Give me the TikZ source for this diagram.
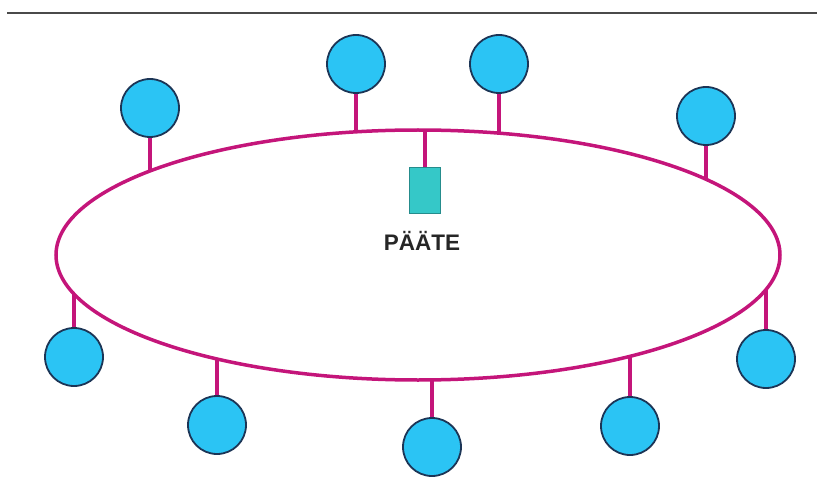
\documentclass[tikz,border=0pt]{standalone}
\usepackage{fontspec}
\setmainfont{Liberation Sans}
\usetikzlibrary{shapes.geometric,backgrounds}
\definecolor{ringcol}{HTML}{C4157A}
\definecolor{nodefill}{HTML}{2BC4F4}
\definecolor{nodeedge}{HTML}{1C3556}
\definecolor{termfill}{HTML}{35C8C8}
\definecolor{rulecol}{HTML}{4A4A4A}
\tikzset{
  station/.style={circle, draw=nodeedge, line width=1.8pt, fill=nodefill, minimum size=58pt, inner sep=0pt},
  stem/.style={draw=ringcol, line width=3.5pt},
  terminal/.style={rectangle, draw=termfill!70!black, line width=0.6pt, fill=termfill, minimum width=31pt, minimum height=46pt, inner sep=0pt},
  lbl/.style={font=\bfseries\fontsize{22.5}{22.5}\selectfont, text=black!85},
  bus/.style={draw=ringcol, line width=3.5pt, ellipse, minimum width=724pt, minimum height=250pt, inner sep=0pt}
}
\begin{document}
\begin{tikzpicture}[x=1pt,y=-1pt]
\useasboundingbox (0,0) rectangle (817,492);
% header rule
\coordinate (r0) at (7,13);
\coordinate (r1) at (817,13);
\draw[rulecol, line width=2.2pt] (r0) -- (r1);
% stations
\node[station] (s1) at (150,108) {};
\node[station] (s2) at (356,64) {};
\node[station] (s3) at (499,64) {};
\node[station] (s4) at (706,116) {};
\node[station] (s5) at (74,357) {};
\node[station] (s6) at (217,425) {};
\node[station] (s7) at (432,447) {};
\node[station] (s8) at (630,426) {};
\node[station] (s9) at (766,359) {};
% terminal and its label
\node[terminal] (term) at (425,190) {};
\node[lbl] (lab) at (422,241) {PÄÄTE};
% tap points on the bus
\coordinate (t1) at (150,171);
\coordinate (t2) at (356,132);
\coordinate (t3) at (499,133);
\coordinate (t4) at (706,179);
\coordinate (t5) at (74,294);
\coordinate (t6) at (217,359);
\coordinate (t7) at (432,380);
\coordinate (t8) at (630,356);
\coordinate (t9) at (766,289);
\coordinate (t0) at (425,131);
\begin{scope}[on background layer]
  \foreach \i in {1,...,9} {\draw[stem] (s\i.center) -- (t\i);}
  \draw[stem] (t0) -- (term.center);
  \node[bus] (ring) at (418,255) {};
\end{scope}
\end{tikzpicture}
\end{document}
